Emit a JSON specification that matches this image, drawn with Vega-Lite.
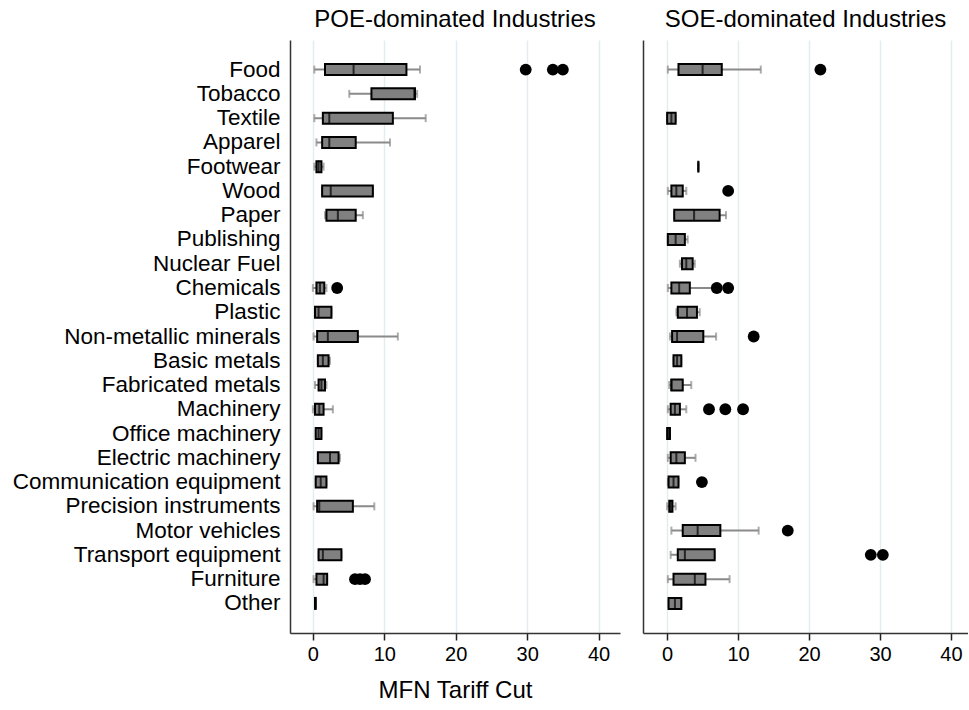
{
  "$schema": "https://vega.github.io/schema/vega-lite/v6.json",
  "background": "white",
  "padding": {"left": 12, "top": 8, "right": 0, "bottom": 2},
  "config": {
    "view": {"stroke": null},
    "font": "Liberation Sans",
    "concat": {"spacing": 23},
    "axis": {"labelFont": "Liberation Sans", "titleFont": "Liberation Sans"}
  },
  "datasets": {
    "boxes": [
      {"panel": "POE", "industry": "Food", "lo": 0.2, "q1": 1.7, "med": 5.7, "q3": 13.1, "hi": 15.0},
      {"panel": "POE", "industry": "Tobacco", "lo": 5.1, "q1": 8.2, "med": 14.2, "q3": 14.3, "hi": 14.6},
      {"panel": "POE", "industry": "Textile", "lo": 0.2, "q1": 1.4, "med": 2.3, "q3": 11.2, "hi": 15.8},
      {"panel": "POE", "industry": "Apparel", "lo": 0.5, "q1": 1.3, "med": 2.3, "q3": 6.0, "hi": 10.8},
      {"panel": "POE", "industry": "Footwear", "lo": 0.2, "q1": 0.5, "med": 0.8, "q3": 1.2, "hi": 1.5},
      {"panel": "POE", "industry": "Wood", "lo": 1.3, "q1": 1.3, "med": 2.5, "q3": 8.4, "hi": 8.4},
      {"panel": "POE", "industry": "Paper", "lo": 1.7, "q1": 1.9, "med": 3.5, "q3": 6.0, "hi": 7.0},
      {"panel": "POE", "industry": "Chemicals", "lo": 0.0, "q1": 0.5, "med": 1.0, "q3": 1.6, "hi": 1.9},
      {"panel": "POE", "industry": "Plastic", "lo": 0.3, "q1": 0.3, "med": 0.8, "q3": 2.6, "hi": 2.6},
      {"panel": "POE", "industry": "Non-metallic minerals", "lo": 0.1, "q1": 0.6, "med": 2.1, "q3": 6.3, "hi": 11.9},
      {"panel": "POE", "industry": "Basic metals", "lo": 0.7, "q1": 0.7, "med": 1.4, "q3": 2.2, "hi": 2.4},
      {"panel": "POE", "industry": "Fabricated metals", "lo": 0.3, "q1": 0.8, "med": 1.2, "q3": 1.7, "hi": 1.9},
      {"panel": "POE", "industry": "Machinery", "lo": 0.0, "q1": 0.3, "med": 0.9, "q3": 1.5, "hi": 2.8},
      {"panel": "POE", "industry": "Office machinery", "lo": 0.4, "q1": 0.4, "med": 0.8, "q3": 1.2, "hi": 1.2},
      {"panel": "POE", "industry": "Electric machinery", "lo": 0.7, "q1": 0.7, "med": 2.4, "q3": 3.6, "hi": 3.8},
      {"panel": "POE", "industry": "Communication equipment", "lo": 0.4, "q1": 0.4, "med": 1.1, "q3": 1.9, "hi": 1.9},
      {"panel": "POE", "industry": "Precision instruments", "lo": 0.1, "q1": 0.6, "med": 0.9, "q3": 5.6, "hi": 8.6},
      {"panel": "POE", "industry": "Transport equipment", "lo": 0.8, "q1": 0.8, "med": 1.4, "q3": 4.0, "hi": 4.0},
      {"panel": "POE", "industry": "Furniture", "lo": 0.1, "q1": 0.5, "med": 1.5, "q3": 2.0, "hi": 2.0},
      {"panel": "POE", "industry": "Other", "lo": 0.3, "q1": 0.3, "med": 0.35, "q3": 0.4, "hi": 0.4},
      {"panel": "SOE", "industry": "Food", "lo": 0.1, "q1": 1.6, "med": 5.0, "q3": 7.7, "hi": 13.2},
      {"panel": "SOE", "industry": "Textile", "lo": 0.0, "q1": 0.0, "med": 0.6, "q3": 1.2, "hi": 1.2},
      {"panel": "SOE", "industry": "Footwear", "lo": 4.4, "q1": 4.4, "med": 4.4, "q3": 4.4, "hi": 4.4},
      {"panel": "SOE", "industry": "Wood", "lo": 0.1, "q1": 0.6, "med": 1.3, "q3": 2.2, "hi": 2.7},
      {"panel": "SOE", "industry": "Paper", "lo": 1.0, "q1": 1.0, "med": 3.8, "q3": 7.4, "hi": 8.3},
      {"panel": "SOE", "industry": "Publishing", "lo": 0.1, "q1": 0.1, "med": 1.2, "q3": 2.5, "hi": 2.9},
      {"panel": "SOE", "industry": "Nuclear Fuel", "lo": 1.8, "q1": 2.1, "med": 2.7, "q3": 3.6, "hi": 3.9},
      {"panel": "SOE", "industry": "Chemicals", "lo": 0.1, "q1": 0.6, "med": 1.7, "q3": 3.2, "hi": 6.4},
      {"panel": "SOE", "industry": "Plastic", "lo": 1.3, "q1": 1.5, "med": 2.8, "q3": 4.2, "hi": 4.6},
      {"panel": "SOE", "industry": "Non-metallic minerals", "lo": 0.4, "q1": 0.7, "med": 1.4, "q3": 5.1, "hi": 6.9},
      {"panel": "SOE", "industry": "Basic metals", "lo": 0.9, "q1": 0.9, "med": 1.4, "q3": 2.0, "hi": 2.0},
      {"panel": "SOE", "industry": "Fabricated metals", "lo": 0.3, "q1": 0.6, "med": 0.6, "q3": 2.2, "hi": 3.4},
      {"panel": "SOE", "industry": "Machinery", "lo": 0.1, "q1": 0.5, "med": 1.1, "q3": 1.8, "hi": 2.7},
      {"panel": "SOE", "industry": "Office machinery", "lo": 0.0, "q1": 0.0, "med": 0.2, "q3": 0.4, "hi": 0.4},
      {"panel": "SOE", "industry": "Electric machinery", "lo": 0.1, "q1": 0.5, "med": 1.3, "q3": 2.5, "hi": 4.0},
      {"panel": "SOE", "industry": "Communication equipment", "lo": 0.1, "q1": 0.2, "med": 0.9, "q3": 1.6, "hi": 1.6},
      {"panel": "SOE", "industry": "Precision instruments", "lo": 0.0, "q1": 0.3, "med": 0.5, "q3": 0.75, "hi": 1.2},
      {"panel": "SOE", "industry": "Motor vehicles", "lo": 0.6, "q1": 2.2, "med": 4.3, "q3": 7.5, "hi": 12.9},
      {"panel": "SOE", "industry": "Transport equipment", "lo": 0.5, "q1": 1.5, "med": 2.5, "q3": 6.7, "hi": 6.7},
      {"panel": "SOE", "industry": "Furniture", "lo": 0.1, "q1": 0.9, "med": 3.9, "q3": 5.4, "hi": 8.8},
      {"panel": "SOE", "industry": "Other", "lo": 0.2, "q1": 0.2, "med": 1.1, "q3": 2.0, "hi": 2.0}
    ],
    "outliers": [
      {"panel": "POE", "industry": "Food", "v": 29.8},
      {"panel": "POE", "industry": "Food", "v": 33.6},
      {"panel": "POE", "industry": "Food", "v": 35.0},
      {"panel": "POE", "industry": "Chemicals", "v": 3.4},
      {"panel": "POE", "industry": "Furniture", "v": 5.9},
      {"panel": "POE", "industry": "Furniture", "v": 6.6},
      {"panel": "POE", "industry": "Furniture", "v": 7.3},
      {"panel": "SOE", "industry": "Food", "v": 21.6},
      {"panel": "SOE", "industry": "Wood", "v": 8.6},
      {"panel": "SOE", "industry": "Chemicals", "v": 7.0},
      {"panel": "SOE", "industry": "Chemicals", "v": 8.6},
      {"panel": "SOE", "industry": "Non-metallic minerals", "v": 12.2},
      {"panel": "SOE", "industry": "Machinery", "v": 5.9},
      {"panel": "SOE", "industry": "Machinery", "v": 8.2},
      {"panel": "SOE", "industry": "Machinery", "v": 10.7},
      {"panel": "SOE", "industry": "Communication equipment", "v": 4.9},
      {"panel": "SOE", "industry": "Motor vehicles", "v": 17.0},
      {"panel": "SOE", "industry": "Transport equipment", "v": 28.7},
      {"panel": "SOE", "industry": "Transport equipment", "v": 30.4}
    ]
  },
  "hconcat": [
    {
      "width": 330,
      "height": 593,
      "title": {"text": "POE-dominated Industries", "fontSize": 24, "fontWeight": "normal", "color": "black", "offset": 8},
      "layer": [
        {
          "data": {"name": "boxes"},
          "transform": [{"filter": "datum.panel === 'POE'"}],
          "mark": {"type": "rule", "color": "#8a8a8a", "strokeWidth": 2},
          "encoding": {
            "y": {"field": "industry", "type": "nominal", "sort": null,
              "scale": {"domain": ["Food","Tobacco","Textile","Apparel","Footwear","Wood","Paper","Publishing","Nuclear Fuel","Chemicals","Plastic","Non-metallic minerals","Basic metals","Fabricated metals","Machinery","Office machinery","Electric machinery","Communication equipment","Precision instruments","Motor vehicles","Transport equipment","Furniture","Other"], "paddingInner": 0.5, "paddingOuter": 0.97},
              "axis": {"title": null, "ticks": false, "labelFontSize": 22.5, "labelLimit": 500, "labelColor": "black", "labelPadding": 10, "domainColor": "#333333", "domainWidth": 1.5, "grid": false}},
            "x": {"field": "lo", "type": "quantitative",
              "scale": {"domain": [-3.2, 43], "nice": false, "zero": false},
              "axis": {"values": [0, 10, 20, 30, 40], "title": "MFN Tariff Cut", "titleFontSize": 24, "titleFontWeight": "normal", "titleColor": "black", "titlePadding": 14, "labelFontSize": 20, "labelColor": "black", "labelPadding": 4, "tickSize": 7, "tickColor": "#222222", "tickWidth": 1.5, "domainColor": "#333333", "domainWidth": 1.5, "grid": true, "gridColor": "#e4ecf0", "gridWidth": 1.5}},
            "x2": {"field": "hi"}
          }
        },
        {
          "data": {"name": "boxes"},
          "transform": [{"filter": "datum.panel === 'POE'"}],
          "mark": {"type": "tick", "color": "#8a8a8a", "size": 8, "thickness": 2},
          "encoding": {"y": {"field": "industry", "type": "nominal"}, "x": {"field": "lo", "type": "quantitative"}}
        },
        {
          "data": {"name": "boxes"},
          "transform": [{"filter": "datum.panel === 'POE'"}],
          "mark": {"type": "tick", "color": "#8a8a8a", "size": 8, "thickness": 2},
          "encoding": {"y": {"field": "industry", "type": "nominal"}, "x": {"field": "hi", "type": "quantitative"}}
        },
        {
          "data": {"name": "boxes"},
          "transform": [{"filter": "datum.panel === 'POE'"}],
          "mark": {"type": "bar", "fill": "#808080", "stroke": "black", "strokeWidth": 2, "height": 11},
          "encoding": {"y": {"field": "industry", "type": "nominal"}, "x": {"field": "q1", "type": "quantitative"}, "x2": {"field": "q3"}}
        },
        {
          "data": {"name": "boxes"},
          "transform": [{"filter": "datum.panel === 'POE'"}],
          "mark": {"type": "tick", "color": "black", "size": 12, "thickness": 2},
          "encoding": {"y": {"field": "industry", "type": "nominal"}, "x": {"field": "med", "type": "quantitative"}}
        },
        {
          "data": {"name": "outliers"},
          "transform": [{"filter": "datum.panel === 'POE'"}],
          "mark": {"type": "point", "filled": true, "color": "black", "opacity": 1, "size": 140},
          "encoding": {"y": {"field": "industry", "type": "nominal"}, "x": {"field": "v", "type": "quantitative"}}
        }
      ]
    },
    {
      "width": 325,
      "height": 593,
      "title": {"text": "SOE-dominated Industries", "fontSize": 24, "fontWeight": "normal", "color": "black", "offset": 8},
      "layer": [
        {
          "data": {"name": "boxes"},
          "transform": [{"filter": "datum.panel === 'SOE'"}],
          "mark": {"type": "rule", "color": "#8a8a8a", "strokeWidth": 2},
          "encoding": {
            "y": {"field": "industry", "type": "nominal", "sort": null,
              "scale": {"domain": ["Food","Tobacco","Textile","Apparel","Footwear","Wood","Paper","Publishing","Nuclear Fuel","Chemicals","Plastic","Non-metallic minerals","Basic metals","Fabricated metals","Machinery","Office machinery","Electric machinery","Communication equipment","Precision instruments","Motor vehicles","Transport equipment","Furniture","Other"], "paddingInner": 0.5, "paddingOuter": 0.97},
              "axis": {"title": null, "ticks": false, "labels": false, "domainColor": "#333333", "domainWidth": 1.5, "grid": false}},
            "x": {"field": "lo", "type": "quantitative",
              "scale": {"domain": [-3.4, 42.4], "nice": false, "zero": false},
              "axis": {"values": [0, 10, 20, 30, 40], "title": null, "labelFontSize": 20, "labelColor": "black", "labelPadding": 4, "tickSize": 7, "tickColor": "#222222", "tickWidth": 1.5, "domainColor": "#333333", "domainWidth": 1.5, "grid": true, "gridColor": "#e4ecf0", "gridWidth": 1.5}},
            "x2": {"field": "hi"}
          }
        },
        {
          "data": {"name": "boxes"},
          "transform": [{"filter": "datum.panel === 'SOE'"}],
          "mark": {"type": "tick", "color": "#8a8a8a", "size": 8, "thickness": 2},
          "encoding": {"y": {"field": "industry", "type": "nominal"}, "x": {"field": "lo", "type": "quantitative"}}
        },
        {
          "data": {"name": "boxes"},
          "transform": [{"filter": "datum.panel === 'SOE'"}],
          "mark": {"type": "tick", "color": "#8a8a8a", "size": 8, "thickness": 2},
          "encoding": {"y": {"field": "industry", "type": "nominal"}, "x": {"field": "hi", "type": "quantitative"}}
        },
        {
          "data": {"name": "boxes"},
          "transform": [{"filter": "datum.panel === 'SOE'"}],
          "mark": {"type": "bar", "fill": "#808080", "stroke": "black", "strokeWidth": 2, "height": 11},
          "encoding": {"y": {"field": "industry", "type": "nominal"}, "x": {"field": "q1", "type": "quantitative"}, "x2": {"field": "q3"}}
        },
        {
          "data": {"name": "boxes"},
          "transform": [{"filter": "datum.panel === 'SOE'"}],
          "mark": {"type": "tick", "color": "black", "size": 12, "thickness": 2},
          "encoding": {"y": {"field": "industry", "type": "nominal"}, "x": {"field": "med", "type": "quantitative"}}
        },
        {
          "data": {"name": "outliers"},
          "transform": [{"filter": "datum.panel === 'SOE'"}],
          "mark": {"type": "point", "filled": true, "color": "black", "opacity": 1, "size": 140},
          "encoding": {"y": {"field": "industry", "type": "nominal"}, "x": {"field": "v", "type": "quantitative"}}
        }
      ]
    }
  ]
}
